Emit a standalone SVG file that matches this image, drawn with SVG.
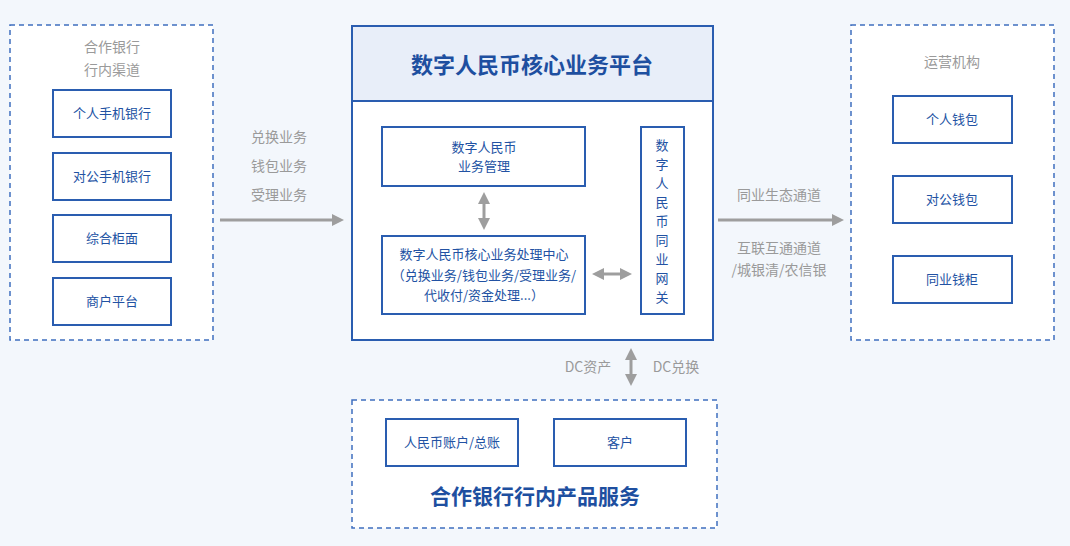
<svg xmlns="http://www.w3.org/2000/svg" width="1070" height="546" viewBox="0 0 1070 546">
<style>
text{font-family:"Noto Sans CJK SC","Noto Sans",sans-serif;text-anchor:middle}
.dash{fill:#fff;stroke:#3f6fbf;stroke-width:1.5;stroke-dasharray:5,4}
.box{fill:#fff;stroke:#2a5db0;stroke-width:2}
.bt{fill:#2252a3;font-size:13px}
.gt{fill:#9a9a9a;font-size:14px}
.ln{stroke:#9e9e9e;stroke-width:3;fill:none}
</style>
<defs>
<marker id="ah" viewBox="0 0 10 10" refX="5" refY="5" markerWidth="4" markerHeight="4" orient="auto-start-reverse"><path d="M0,0L10,5L0,10z" fill="#9e9e9e"/></marker>
</defs>
<rect width="1070" height="546" fill="#f3f7fc"/>
<g id="left">
<rect class="dash" x="10" y="25" width="203" height="315"/>
<text class="gt" x="112" y="52" font-size="15">合作银行</text>
<text class="gt" x="112" y="75" font-size="15">行内渠道</text>
<rect class="box" x="53" y="90" width="118" height="47"/><text class="bt" x="112" y="118">个人手机银行</text>
<rect class="box" x="53" y="153" width="118" height="47"/><text class="bt" x="112" y="181">对公手机银行</text>
<rect class="box" x="53" y="215" width="118" height="47"/><text class="bt" x="112" y="243">综合柜面</text>
<rect class="box" x="53" y="278" width="118" height="47"/><text class="bt" x="112" y="306">商户平台</text>
</g>
<g id="center">
<rect x="352" y="26" width="361" height="314" fill="#fff" stroke="#2a5db0" stroke-width="2"/>
<rect x="352" y="26" width="361" height="75" fill="#e8eef9" stroke="#2a5db0" stroke-width="2"/>
<text x="532" y="73" fill="#1e4fa0" font-size="22" font-weight="bold">数字人民币核心业务平台</text>
<rect class="box" x="382" y="127" width="203" height="59"/>
<text class="bt" x="484" y="152">数字人民币</text><text class="bt" x="484" y="171">业务管理</text>
<rect class="box" x="382" y="236" width="203" height="78"/>
<text class="bt" x="484" y="259">数字人民币核心业务处理中心</text>
<text class="bt" x="484" y="280" font-size="12">（兑换业务/钱包业务/受理业务/</text>
<text class="bt" x="484" y="300" font-size="12">代收付/资金处理...）</text>
<rect class="box" x="641" y="127" width="43" height="187"/>
<g class="bt"><text x="662" y="150">数</text><text x="662" y="169">字</text><text x="662" y="188">人</text><text x="662" y="207">民</text><text x="662" y="226">币</text><text x="662" y="245">同</text><text x="662" y="264">业</text><text x="662" y="283">网</text><text x="662" y="302">关</text></g>
</g>
<g id="right">
<rect class="dash" x="851" y="25" width="203" height="315"/>
<text class="gt" x="952" y="67" font-size="15">运营机构</text>
<rect class="box" x="893" y="96" width="119" height="47"/><text class="bt" x="952" y="124">个人钱包</text>
<rect class="box" x="893" y="176" width="119" height="47"/><text class="bt" x="952" y="204">对公钱包</text>
<rect class="box" x="893" y="256" width="119" height="47"/><text class="bt" x="952" y="284">同业钱柜</text>
</g>
<g id="bottom">
<rect class="dash" x="352" y="400" width="365" height="128"/>
<rect class="box" x="386" y="419" width="132" height="47"/><text class="bt" x="452" y="447">人民币账户/总账</text>
<rect class="box" x="554" y="419" width="132" height="47"/><text class="bt" x="620" y="447">客户</text>
<text x="535" y="504" fill="#1e4fa0" font-size="21" font-weight="bold">合作银行行内产品服务</text>
</g>
<g id="connectors">
<line class="ln" x1="220" y1="220" x2="338" y2="220" marker-end="url(#ah)"/>
<line class="ln" x1="718" y1="220" x2="838" y2="220" marker-end="url(#ah)"/>
<line class="ln" x1="484" y1="198" x2="484" y2="224" marker-start="url(#ah)" marker-end="url(#ah)"/>
<line class="ln" x1="598" y1="274" x2="626" y2="274" marker-start="url(#ah)" marker-end="url(#ah)"/>
<line class="ln" x1="631" y1="354" x2="631" y2="380" marker-start="url(#ah)" marker-end="url(#ah)"/>
<text class="gt" x="279" y="142">兑换业务</text>
<text class="gt" x="279" y="171">钱包业务</text>
<text class="gt" x="279" y="200">受理业务</text>
<text class="gt" x="779" y="200">同业生态通道</text>
<text class="gt" x="779" y="253">互联互通通道</text>
<text class="gt" x="779" y="275">/城银清/农信银</text>
<text class="gt" x="588" y="372">DC资产</text>
<text class="gt" x="676" y="372">DC兑换</text>
</g>
</svg>
